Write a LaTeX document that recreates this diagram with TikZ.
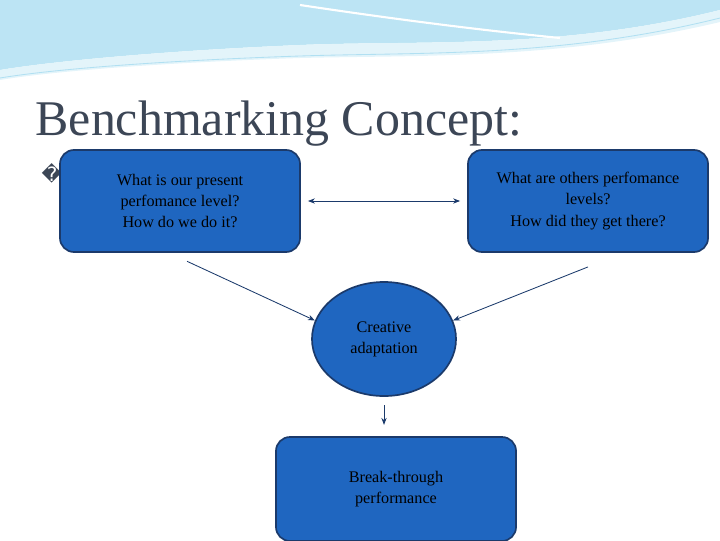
\documentclass[tikz,border=0pt]{standalone}
\usepackage{fontspec}
\setmainfont{Liberation Serif}
\newfontfamily\symfont{DejaVu Sans}
\usetikzlibrary{arrows.meta,positioning,shapes.geometric}
\definecolor{boxblue}{HTML}{1F66C0}
\definecolor{boxline}{HTML}{1B3A6B}
\definecolor{titlegray}{HTML}{3C4656}
\definecolor{wave}{HTML}{8FD3EC}
\begin{document}
\begin{tikzpicture}[x=0.025cm,y=-0.025cm,thick,>=stealth]
    \tikzset{
        concept/.style={draw=boxline,fill=boxblue,rounded corners=10pt,line width=1.2pt,
            minimum width=6cm,minimum height=2.55cm,align=center,font=\fontsize{11.5}{15}\selectfont},
        link/.style={draw=boxline,line width=0.6pt,-{Stealth[length=5pt]}}
    }
    \useasboundingbox (0,0) rectangle (720,540);

    % top waves
    \fill[wave!60] (0,0) -- (720,0) -- (720,10) .. controls (560,50) and (420,40) .. (300,45)
        .. controls (180,50) and (60,60) .. (0,70) -- cycle;
    \fill[wave!25] (0,70) .. controls (60,60) and (180,50) .. (300,45)
        .. controls (420,40) and (560,50) .. (720,10) -- (720,22)
        .. controls (560,60) and (420,55) .. (300,58) .. controls (180,62) and (60,70) .. (0,80) -- cycle;
    \draw[white,line width=1.5pt] (300,5) .. controls (400,20) and (480,30) .. (560,38);
    \draw[wave!70,line width=0.6pt] (0,78) .. controls (60,68) and (180,60) .. (300,56)
        .. controls (420,52) and (560,58) .. (720,18);

    % title
    \node[anchor=base west,text=titlegray,font=\fontsize{35.5}{40}\selectfont,inner sep=0pt] (title) at (35,135) {Benchmarking Concept:};
    \node[anchor=west,text=titlegray,font=\symfont\fontsize{14}{16}\selectfont,inner sep=0pt] (mark) at (41,173) {\symbol{"FFFD}};

    % boxes
    \node[concept] (present) at (180,201) {What is our present\\perfomance level?\\How do we do it?};
    \node[concept] (others) at (588,201) {What are others perfomance\\levels?\\How did they get there?};
    \node[ellipse,draw=boxline,fill=boxblue,line width=1.2pt,minimum width=3.6cm,minimum height=2.85cm,
        align=center,font=\fontsize{11.5}{15}\selectfont] (adapt) at (384,339) {Creative\\adaptation};
    \node[concept,minimum height=2.6cm] (break) at (396,489) {Break-through\\performance};

    % links
    \draw[link,{Stealth[length=5pt]}-{Stealth[length=5pt]}] ([xshift=5pt]present.east) -- ([xshift=-5pt]others.east -| others.west);
    \draw[link] ([xshift=5pt,yshift=-6pt]present.south) -- (adapt.165);
    \draw[link] ([yshift=-10pt]others.south) -- (adapt.15);
    \draw[link] ([yshift=-6pt]adapt.south) -- ([yshift=8pt]break.north -| adapt.south);
\end{tikzpicture}
\end{document}
